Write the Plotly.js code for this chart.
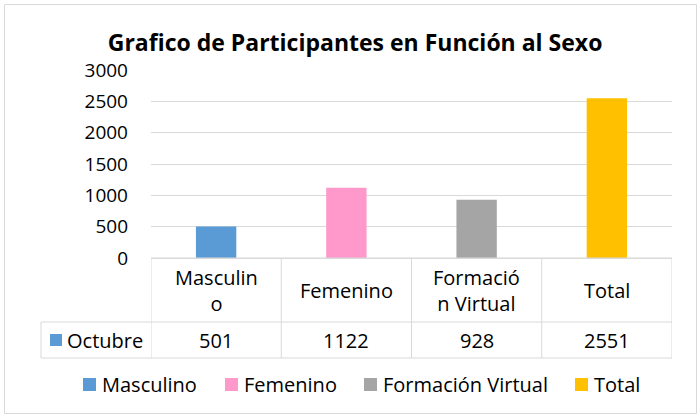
<!DOCTYPE html>
<html><head><meta charset="utf-8">
<script src="https://cdn.plot.ly/plotly-3.0.1.min.js"></script>
<style>body{margin:0;background:#fff}#c{width:699px;height:418px}</style>
</head><body><div id="c"></div>
<script>
const categories = ["Masculino", "Femenino", "Formación Virtual", "Total"];
const headerLabels = ["Masculin<br>o", "Femenino", "Formació<br>n Virtual", "Total"];
const values = [501, 1122, 928, 2551];
const seriesName = "Octubre";
const colors = ["#5B9BD5", "#FF99CC", "#A5A5A5", "#FFC000"];

const FONT = "'Open Sans', 'Noto Sans', sans-serif";
const FS = 20;
const W = 699, H = 418, L = 151, R = 27, T = 70, B = 160;
const pw = W - L - R, ph = H - T - B;
const px = x => (x - L) / pw;
const py = y => (H - B - y) / ph;
const grid = "#D9D9D9";

const traces = categories.map((c, i) => ({
  type: "bar", x: [i], y: [values[i]], name: c,
  marker: {color: colors[i]}, width: 0.31, hoverinfo: "none", showlegend: false
}));

const shapes = [];
const annotations = [];
// outer chart border
shapes.push({type: "rect", xref: "paper", yref: "paper", x0: px(4.5), x1: px(696.5), y0: py(413.5), y1: py(4.5), line: {color: grid, width: 1}});
// table horizontal lines
[[151, 258], [41, 322], [41, 358]].forEach(([x0, y]) => shapes.push({type: "line", xref: "paper", yref: "paper", x0: px(x0), x1: 1, y0: py(y), y1: py(y), line: {color: grid, width: 1}}));
// table vertical lines
[-0.5, 0.5, 1.5, 2.5, 3.5].forEach(x => shapes.push({type: "line", xref: "x", yref: "paper", x0: x, x1: x, y0: py(258), y1: py(358), line: {color: grid, width: 1}}));
shapes.push({type: "line", xref: "paper", yref: "paper", x0: px(41), x1: px(41), y0: py(322), y1: py(358), line: {color: grid, width: 1}});
// series key in table
shapes.push({type: "rect", xref: "paper", yref: "paper", x0: px(50), x1: px(62), y0: py(346), y1: py(334), fillcolor: colors[0], line: {width: 0}});
annotations.push({xref: "paper", yref: "paper", x: px(65), y: py(340), text: seriesName, showarrow: false, xanchor: "left", yanchor: "middle", font: {family: FONT, size: FS, color: "#000"}});

categories.forEach((c, i) => {
  annotations.push({xref: "x", yref: "paper", x: i, y: py(290), text: headerLabels[i], showarrow: false, font: {family: FONT, size: FS, color: "#000"}, align: "center", yanchor: "middle"});
  annotations.push({xref: "x", yref: "paper", x: i, y: py(340), text: String(values[i]), showarrow: false, font: {family: FONT, size: FS, color: "#000"}, yanchor: "middle"});
});

// legend (one key per category)
const legendSquareX = [83, 225, 364, 575];
categories.forEach((c, i) => {
  const sx = legendSquareX[i];
  shapes.push({type: "rect", xref: "paper", yref: "paper", x0: px(sx), x1: px(sx + 13), y0: py(391), y1: py(378), fillcolor: colors[i], line: {width: 0}});
  annotations.push({xref: "paper", yref: "paper", x: px(sx + 17), y: py(384.5), text: c, showarrow: false, xanchor: "left", yanchor: "middle", font: {family: FONT, size: FS, color: "#000"}});
});

const layout = {
  width: W, height: H,
  margin: {l: L, r: R, t: T, b: B, pad: 0},
  paper_bgcolor: "#fff", plot_bgcolor: "#fff",
  font: {family: FONT, color: "#000"},
  title: {text: "<b>Grafico de Participantes en Función al Sexo</b>", font: {family: FONT, size: 23, color: "#000"}, x: 0.508, xanchor: "center", y: 1 - 43 / H, yanchor: "middle"},
  barmode: "overlay",
  showlegend: false,
  xaxis: {range: [-0.5, 3.5], showticklabels: false, showgrid: false, zeroline: false, showline: false, fixedrange: true},
  yaxis: {range: [0, 3000], dtick: 500, showgrid: true, gridcolor: grid, gridwidth: 1, zeroline: true, zerolinecolor: grid, showline: false, ticks: "", ticklabelstandoff: 22, tickfont: {family: FONT, size: 19, color: "#000"}, fixedrange: true},
  shapes: shapes,
  annotations: annotations
};
Plotly.newPlot("c", traces, layout, {displayModeBar: false, staticPlot: true});
</script></body></html>
